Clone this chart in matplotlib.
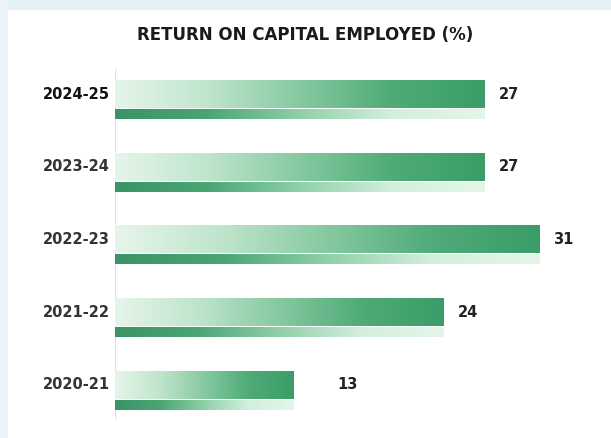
import numpy as np
import matplotlib.pyplot as plt
from matplotlib.colors import LinearSegmentedColormap
from matplotlib.patches import Rectangle

# data
years = ['2020-21', '2021-22', '2022-23', '2023-24', '2024-25']
roce = [13, 24, 31, 27, 27]
title = 'RETURN ON CAPITAL EMPLOYED (%)'

# label gap after each bar end (in % units)
label_gap = [3.2, 1.0, 1.0, 1.0, 1.0]

bar_h = 0.38
strip_h = 0.13
strip_gap = 0.02

main_cmap = LinearSegmentedColormap.from_list(
    'main', ['#e6f5ea', '#bfe5cc', '#86c9a0', '#4fab78', '#3a9d68'])
strip_cmap = LinearSegmentedColormap.from_list(
    'strip', ['#3a9466', '#4aa575', '#8fd0a8', '#d3efde', '#e4f6ea'])

fig = plt.figure(figsize=(6.11, 4.38), dpi=100)
fig.patch.set_facecolor('white')

# light blue frame on top and left edge
fig.patches.append(Rectangle((0, 1 - 10 / 438), 1, 10 / 438, transform=fig.transFigure,
                             facecolor='#e4f2f8', edgecolor='none', zorder=0))
fig.patches.append(Rectangle((0, 0), 8 / 611, 1, transform=fig.transFigure,
                             facecolor='#e9f4f9', edgecolor='none', zorder=0))

ax = fig.add_axes([115 / 611, 8 / 438, 496 / 611, 370 / 438])
ax.set_xlim(0, 496 / 13.7)
ax.set_ylim(-0.62, 4.47)
ax.axis('off')

grad = np.linspace(0, 1, 256).reshape(1, -1)
ypos = np.arange(len(years))

for y, v, gap in zip(ypos, roce, label_gap):
    # main bar
    ax.imshow(grad, cmap=main_cmap, aspect='auto', interpolation='bilinear',
              extent=(0, v, y - bar_h / 2, y + bar_h / 2), zorder=2)
    # thin strip under the bar
    top = y - bar_h / 2 - strip_gap
    ax.imshow(grad, cmap=strip_cmap, aspect='auto', interpolation='bilinear',
              extent=(0, v, top - strip_h, top), zorder=2)
    ax.text(v + gap, y, str(v), ha='left', va='center', fontsize=10.5,
            fontweight='bold', color='#222222')

for y, lab in zip(ypos, years):
    ax.text(-0.4, y, lab, ha='right', va='center', fontsize=10.5,
            fontweight='bold' if lab == '2024-25' else 'semibold',
            color='#111111' if lab == '2024-25' else '#333333')

ax.plot([0, 0], [-0.45, 4.35], color='#e2e2e2', lw=1, zorder=1)
ax.set_xlim(0, 496 / 13.7)
ax.set_ylim(-0.62, 4.47)

fig.text(305 / 611, 1 - 35 / 438, title, ha='center', va='center',
         fontsize=12, fontweight='bold', color='#1a1a1a')

fig.savefig('out.png', dpi=100)
